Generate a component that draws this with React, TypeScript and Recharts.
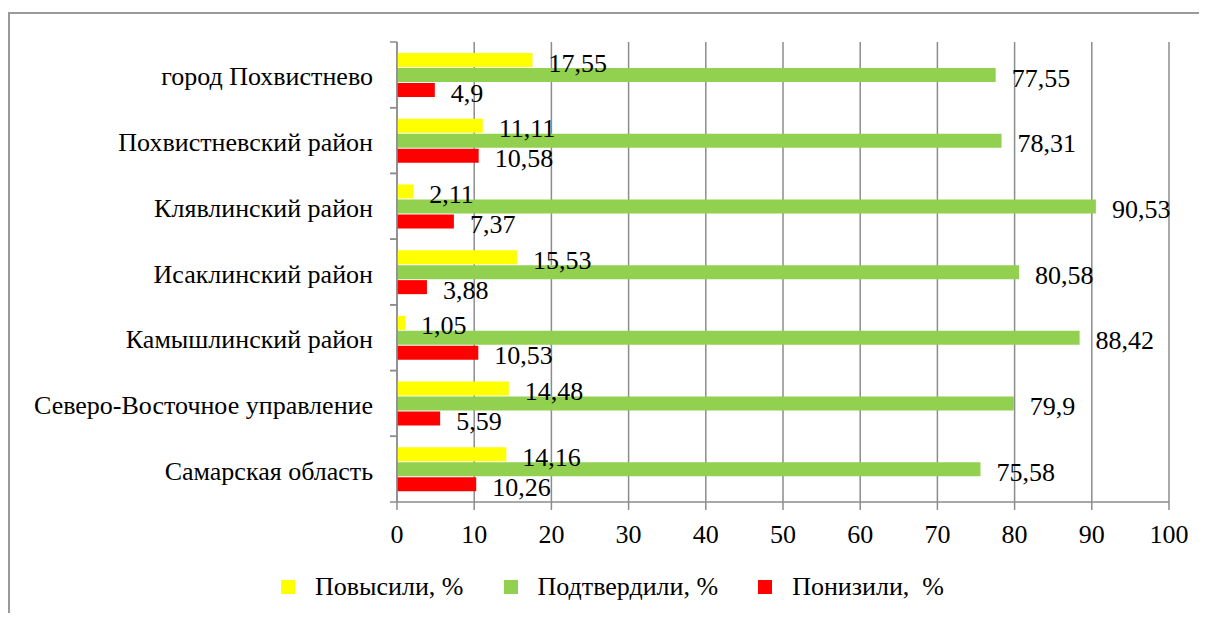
import { BarChart, Bar, XAxis, YAxis, CartesianGrid, Legend, LabelList } from 'recharts';

const CATEGORIES = [
  'город Похвистнево',
  'Похвистневский район',
  'Клявлинский район',
  'Исаклинский район',
  'Камышлинский район',
  'Северо-Восточное управление',
  'Самарская область',
];

const RAISED = [17.55, 11.11, 2.11, 15.53, 1.05, 14.48, 14.16];
const CONFIRMED = [77.55, 78.31, 90.53, 80.58, 88.42, 79.9, 75.58];
const LOWERED = [4.9, 10.58, 7.37, 3.88, 10.53, 5.59, 10.26];

const X_TICKS = [0, 10, 20, 30, 40, 50, 60, 70, 80, 90, 100];

const SERIES = [
  { key: 'raised', name: 'Повысили, %', color: '#FFFF00' },
  { key: 'confirmed', name: 'Подтвердили, %', color: '#92D050' },
  { key: 'lowered', name: 'Понизили,  %', color: '#FF0000' },
];

const FONT = 'Liberation Serif, DejaVu Serif, serif';
const GRID = '#8c8c8c';
const Y_TICK = 7;
const Y_MARGIN = 17;

const data = CATEGORIES.map((name, i) => ({
  name,
  raised: RAISED[i],
  confirmed: CONFIRMED[i],
  lowered: LOWERED[i],
}));

const fmt = (v: number) => String(v).replace('.', ',');

function CategoryTick(props: any) {
  const { x, y, payload } = props;
  const half = payload?.offset ?? 0;
  const axisX = x + Y_TICK + Y_MARGIN;
  return (
    <g>
      <line x1={axisX - Y_TICK} x2={axisX} y1={y - half} y2={y - half} stroke={GRID} strokeWidth={1.5} />
      <line x1={axisX - Y_TICK} x2={axisX} y1={y + half} y2={y + half} stroke={GRID} strokeWidth={1.5} />
      <text x={x} y={y + 2} textAnchor="end" dominantBaseline="central" fontSize={26} fontFamily={FONT} fill="#000">
        {payload.value}
      </text>
    </g>
  );
}

function ValueLabel(props: any) {
  const { x, y, width, height, value } = props;
  return (
    <text
      x={x + width + 16}
      y={y + height / 2 + 3}
      dominantBaseline="central"
      fontSize={26}
      fontFamily={FONT}
      fill="#000"
    >
      {fmt(value)}
    </text>
  );
}

function LegendContent() {
  return (
    <div
      style={{
        display: 'flex',
        justifyContent: 'center',
        alignItems: 'center',
        height: 40,
        paddingLeft: 88,
        fontFamily: FONT,
        fontSize: 26,
        whiteSpace: 'pre',
      }}
    >
      {SERIES.map((s) => (
        <div key={s.key} style={{ display: 'flex', alignItems: 'center', marginRight: 40 }}>
          <span style={{ width: 14, height: 14, background: s.color, marginRight: 20 }} />
          <span>{s.name}</span>
        </div>
      ))}
    </div>
  );
}

export default function App() {
  return (
    <div style={{ position: 'relative', width: 1191, height: 605, background: '#fff' }}>
      <style>{'html, body { overflow: hidden; }'}</style>
      {/* frame: only top and left edges are visible in the source */}
      <div
        style={{
          position: 'absolute',
          left: 0,
          top: 4,
          width: 1199,
          height: 609,
          borderTop: '2px solid #9a9a9a',
          borderLeft: '2px solid #9a9a9a',
          boxSizing: 'border-box',
        }}
      />
      <div style={{ position: 'absolute', left: 0, top: 0 }}>
        <BarChart
          width={1191}
          height={613}
          data={data}
          layout="vertical"
          margin={{ top: 34, right: 30, left: 0, bottom: 14 }}
          barSize={14}
          barGap={1}
        >
          <CartesianGrid horizontal={false} stroke={GRID} strokeWidth={1.5} />
          <XAxis
            type="number"
            domain={[0, 100]}
            ticks={X_TICKS}
            interval={0}
            height={65}
            tickSize={8}
            tickMargin={15}
            axisLine={{ stroke: GRID, strokeWidth: 1.5 }}
            tickLine={{ stroke: GRID, strokeWidth: 1.5 }}
            tick={{ fontSize: 26, fontFamily: FONT, fill: '#000' }}
          />
          <YAxis
            type="category"
            dataKey="name"
            width={389}
            tickSize={Y_TICK}
            tickMargin={Y_MARGIN}
            tickLine={false}
            axisLine={{ stroke: GRID, strokeWidth: 1.5 }}
            tick={<CategoryTick />}
            interval={0}
          />
          <Legend verticalAlign="bottom" content={<LegendContent />} />
          {SERIES.map((s) => (
            <Bar key={s.key} dataKey={s.key} name={s.name} fill={s.color} isAnimationActive={false}>
              <LabelList dataKey={s.key} content={<ValueLabel />} />
            </Bar>
          ))}
        </BarChart>
      </div>
    </div>
  );
}
